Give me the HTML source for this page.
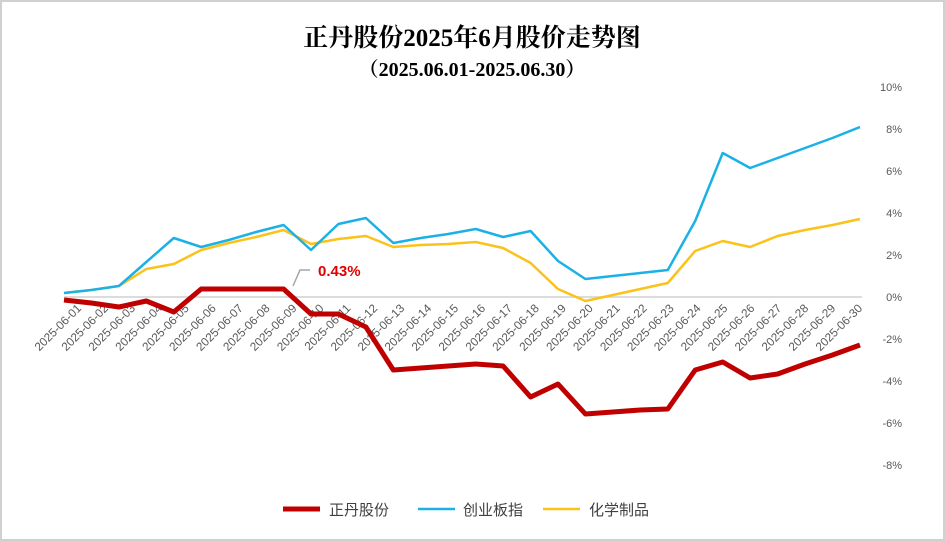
<!DOCTYPE html><html><head><meta charset="utf-8"><style>body{margin:0;background:#fff}svg{display:block}</style></head><body>
<svg width="945" height="541" xmlns="http://www.w3.org/2000/svg" font-family="'Liberation Sans','Noto Sans CJK SC',sans-serif">
<rect x="1" y="1" width="943" height="539" fill="#fff" stroke="#d0d0d0" stroke-width="2"/>
<text x="472" y="46" text-anchor="middle" font-size="25" font-weight="bold" font-family="'Liberation Serif','Noto Serif CJK SC',serif" fill="#000">正丹股份2025年6月股价走势图</text>
<text x="472" y="76" text-anchor="middle" font-size="20" font-weight="bold" font-family="'Liberation Serif','Noto Serif CJK SC',serif" fill="#000">（2025.06.01-2025.06.30）</text>
<line x1="64" y1="297" x2="862" y2="297" stroke="#d0d0d0" stroke-width="1.5"/>
<g font-size="11" fill="#595959" text-anchor="end">
<text x="902" y="91">10%</text><text x="902" y="133">8%</text><text x="902" y="175">6%</text><text x="902" y="217">4%</text><text x="902" y="259">2%</text><text x="902" y="301">0%</text><text x="902" y="343">-2%</text><text x="902" y="385">-4%</text><text x="902" y="427">-6%</text><text x="902" y="469">-8%</text>
</g>
<g font-size="11.8" fill="#595959" text-anchor="end">
<text transform="translate(82,309) rotate(-45)">2025-06-01</text>
<text transform="translate(108.9,309) rotate(-45)">2025-06-02</text>
<text transform="translate(135.9,309) rotate(-45)">2025-06-03</text>
<text transform="translate(162.8,309) rotate(-45)">2025-06-04</text>
<text transform="translate(189.7,309) rotate(-45)">2025-06-05</text>
<text transform="translate(216.7,309) rotate(-45)">2025-06-06</text>
<text transform="translate(243.6,309) rotate(-45)">2025-06-07</text>
<text transform="translate(270.5,309) rotate(-45)">2025-06-08</text>
<text transform="translate(297.4,309) rotate(-45)">2025-06-09</text>
<text transform="translate(324.4,309) rotate(-45)">2025-06-10</text>
<text transform="translate(351.3,309) rotate(-45)">2025-06-11</text>
<text transform="translate(378.2,309) rotate(-45)">2025-06-12</text>
<text transform="translate(405.2,309) rotate(-45)">2025-06-13</text>
<text transform="translate(432.1,309) rotate(-45)">2025-06-14</text>
<text transform="translate(459,309) rotate(-45)">2025-06-15</text>
<text transform="translate(486,309) rotate(-45)">2025-06-16</text>
<text transform="translate(512.9,309) rotate(-45)">2025-06-17</text>
<text transform="translate(539.8,309) rotate(-45)">2025-06-18</text>
<text transform="translate(566.8,309) rotate(-45)">2025-06-19</text>
<text transform="translate(593.7,309) rotate(-45)">2025-06-20</text>
<text transform="translate(620.6,309) rotate(-45)">2025-06-21</text>
<text transform="translate(647.6,309) rotate(-45)">2025-06-22</text>
<text transform="translate(674.5,309) rotate(-45)">2025-06-23</text>
<text transform="translate(701.4,309) rotate(-45)">2025-06-24</text>
<text transform="translate(728.3,309) rotate(-45)">2025-06-25</text>
<text transform="translate(755.3,309) rotate(-45)">2025-06-26</text>
<text transform="translate(782.2,309) rotate(-45)">2025-06-27</text>
<text transform="translate(809.1,309) rotate(-45)">2025-06-28</text>
<text transform="translate(836.1,309) rotate(-45)">2025-06-29</text>
<text transform="translate(863,309) rotate(-45)">2025-06-30</text>
</g>
<polyline fill="none" stroke="#fbc21a" stroke-width="2.5" stroke-linejoin="round" points="64,293 91.4,290 118.9,286 146.3,269 173.8,264 201.2,250 228.7,243 256.1,237 283.6,230 311,244 338.4,239 365.9,236 393.3,247 420.8,245 448.2,244 475.7,242 503.1,248 530.6,263 558,289 585.4,301 612.9,295 640.3,289 667.8,283 695.2,251 722.7,241 750.1,247 777.6,236 805,230 832.5,225 860,219"/>
<polyline fill="none" stroke="#1bb1e6" stroke-width="2.5" stroke-linejoin="round" points="64,293 91.4,290 118.9,286 146.3,262 173.8,238 201.2,247 228.7,240 256.1,232 283.6,225 311,250 338.4,224 365.9,218 393.3,243 420.8,238 448.2,234 475.7,229 503.1,237 530.6,231 558,261 585.4,279 612.9,276 640.3,273 667.8,270 695.2,221 722.7,153 750.1,168 777.6,158 805,148 832.5,138 860,127"/>
<polyline fill="none" stroke="#c00000" stroke-width="5" stroke-linejoin="round" points="64,300 91.4,303 118.9,307 146.3,301 173.8,312 201.2,289 228.7,289 256.1,289 283.6,289 311,314 338.4,314 365.9,327 393.3,370 420.8,368 448.2,366 475.7,364 503.1,366 530.6,397 558,384 585.4,414 612.9,412 640.3,410 667.8,409 695.2,370 722.7,362 750.1,378 777.6,374 805,364 832.5,355 860,345"/>
<polyline fill="none" stroke="#a6a6a6" stroke-width="1.5" points="293,286 300,270 310,270"/>
<text x="318" y="276" font-size="15" font-weight="bold" fill="#e00000">0.43%</text>
<g font-size="15" fill="#404040">
<line x1="283" y1="509" x2="320" y2="509" stroke="#c00000" stroke-width="5"/><text x="329" y="515">正丹股份</text>
<line x1="418" y1="509" x2="455" y2="509" stroke="#1bb1e6" stroke-width="2.5"/><text x="463" y="515">创业板指</text>
<line x1="543" y1="509" x2="580" y2="509" stroke="#fbc21a" stroke-width="2.5"/><text x="589" y="515">化学制品</text>
</g>
</svg></body></html>
